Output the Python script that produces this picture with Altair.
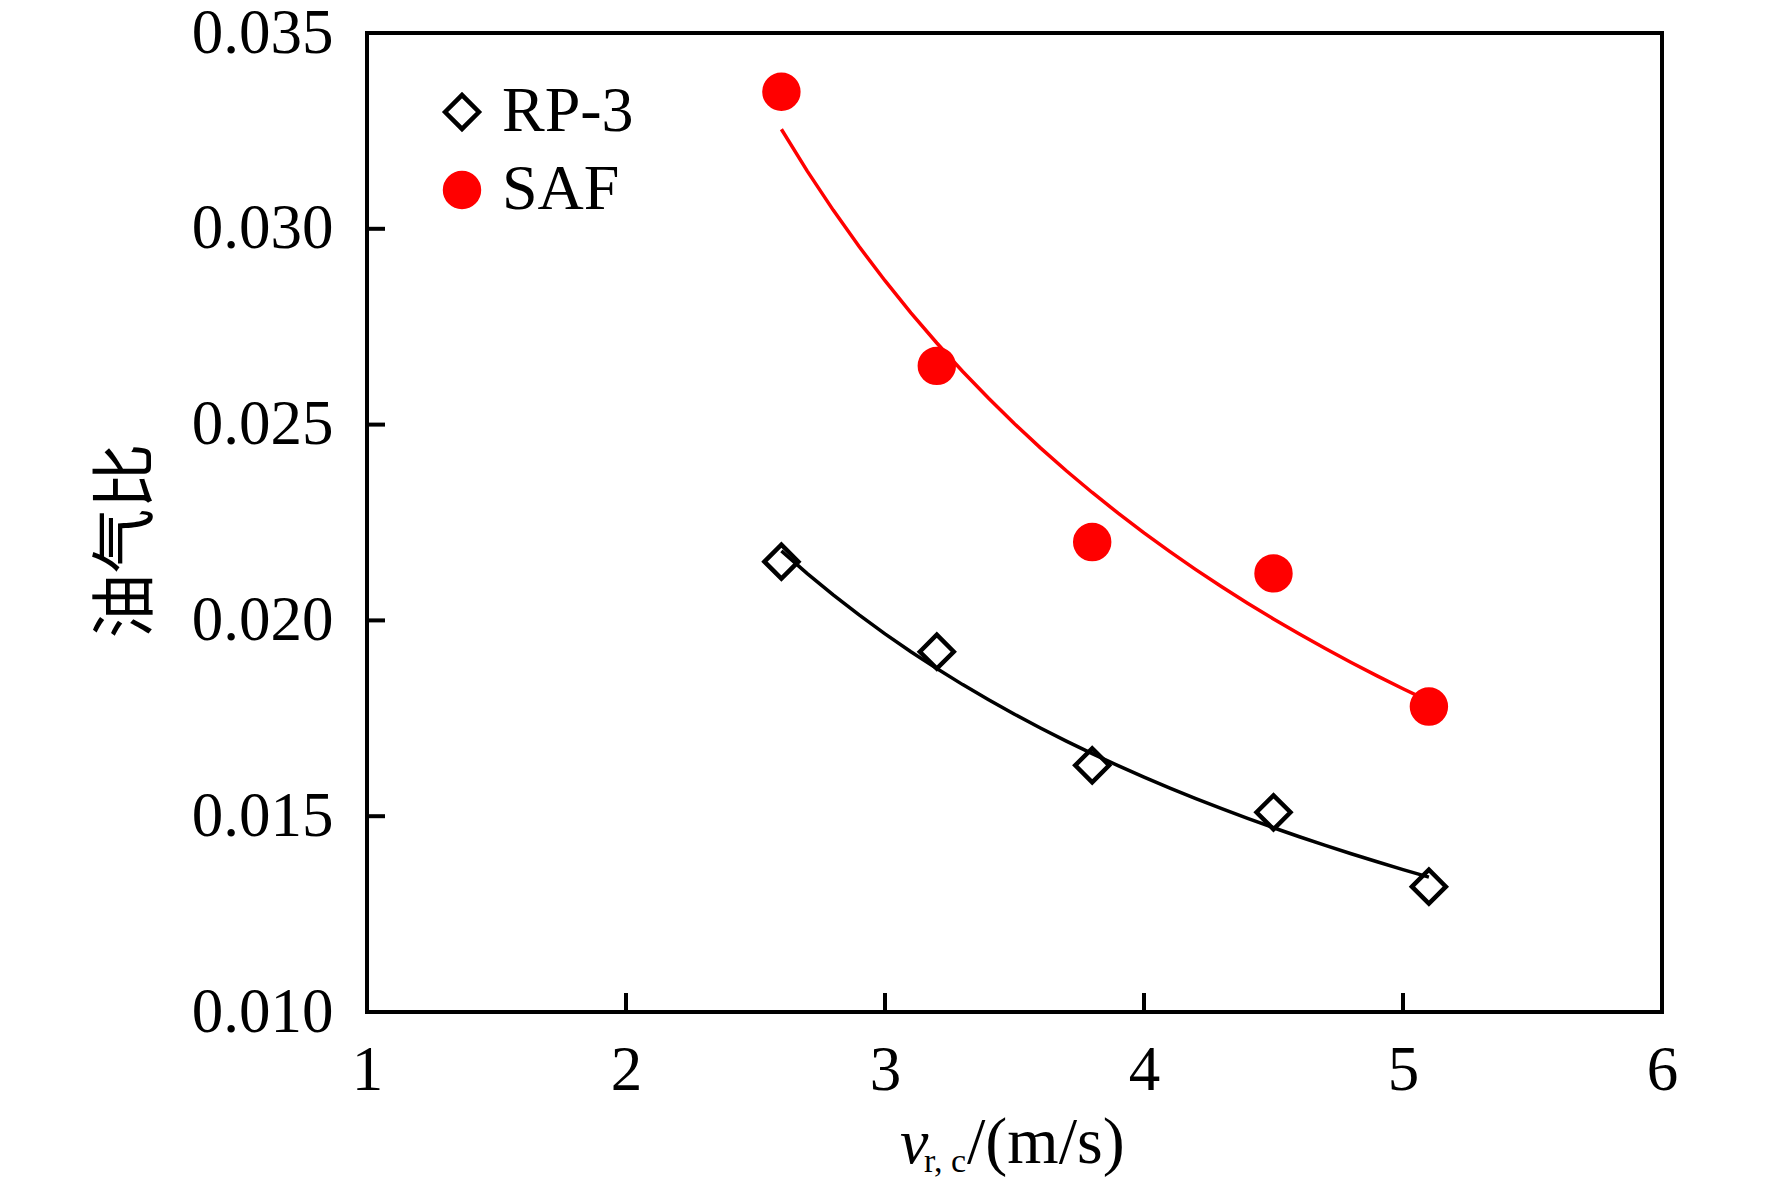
import altair as alt
import pandas as pd

# ---- data ----
v_rc = [2.6, 3.2, 3.8, 4.5, 5.1]
rp3 = [0.0215, 0.0192, 0.0163, 0.0151, 0.0132]
saf = [0.0335, 0.0265, 0.0220, 0.0212, 0.0178]
series = ["RP-3", "SAF"]
x_ticks = [1, 2, 3, 4, 5, 6]
y_ticks = [0.010, 0.015, 0.020, 0.025, 0.030, 0.035]

df = pd.DataFrame({
    "v": v_rc + v_rc,
    "r": rp3 + saf,
    "fuel": ["RP-3"] * len(v_rc) + ["SAF"] * len(v_rc),
})

W, H = 1295, 979
SERIF = "Liberation Serif"

xs = alt.Scale(domain=[1, 6], nice=False, zero=False)
ys = alt.Scale(domain=[0.010, 0.035], nice=False, zero=False)

x_axis = alt.Axis(values=x_ticks, format="d", title=None, labelPadding=27, labelFlush=False)
y_axis = alt.Axis(values=y_ticks, format=".3f", title=None, labelPadding=34, labelFlush=False)

leg = alt.Legend(
    orient="none", legendX=63, legendY=47, title=None,
    labelFont=SERIF, labelFontSize=64, labelColor="black",
    symbolSize=1150, symbolStrokeWidth=4.5, rowPadding=14, labelOffset=8,
)

points = alt.Chart(df).mark_point(size=1150, strokeWidth=4.5, opacity=1).encode(
    x=alt.X("v:Q", scale=xs, axis=x_axis),
    y=alt.Y("r:Q", scale=ys, axis=y_axis),
    shape=alt.Shape("fuel:N", scale=alt.Scale(domain=series, range=["diamond", "circle"]), legend=leg),
    fill=alt.Fill("fuel:N", scale=alt.Scale(domain=series, range=["transparent", "#ff0000"]), legend=leg),
    stroke=alt.Stroke("fuel:N", scale=alt.Scale(domain=series, range=["#000000", "#ff0000"]), legend=leg),
)


def fit_line(name, color):
    return (
        alt.Chart(df)
        .transform_filter(alt.datum.fuel == name)
        .transform_regression("v", "r", method="pow")
        .mark_line(color=color, strokeWidth=3.5)
        .encode(x=alt.X("v:Q", scale=xs), y=alt.Y("r:Q", scale=ys))
    )


line_rp3 = fit_line("RP-3", "#000000")
line_saf = fit_line("SAF", "#ff0000")

# inward tick marks
ytick = alt.Chart(pd.DataFrame({"r": y_ticks[1:-1]})).mark_rule(color="black", strokeWidth=4).encode(
    y=alt.Y("r:Q", scale=ys), x=alt.value(0), x2=alt.value(18)
)
xtick = alt.Chart(pd.DataFrame({"v": x_ticks[1:-1]})).mark_rule(color="black", strokeWidth=4).encode(
    x=alt.X("v:Q", scale=xs), y=alt.value(H), y2=alt.value(H - 19)
)


# axis titles
def label(txt, x, y, size, font=SERIF, style="normal", angle=0, align="left", baseline="alphabetic"):
    return alt.Chart(pd.DataFrame({"s": [txt]})).mark_text(
        font=font, fontSize=size, fontStyle=style, angle=angle, align=align,
        baseline=baseline, color="black",
    ).encode(text="s:N", x=alt.value(x), y=alt.value(y))


xt_v = label("v", 533, 1130, 64, style="italic")
xt_sub = label("r, c", 557, 1139, 34)
xt_rest = label("/(m/s)", 600, 1130, 66)
yt = label("油气比", -240, 508, 65, font="Noto Sans CJK SC", angle=270, align="center", baseline="middle")

chart = alt.layer(
    line_rp3, line_saf, points, ytick, xtick, xt_v, xt_sub, xt_rest, yt
).properties(
    width=W, height=H,
    padding={"left": 359, "top": 25, "right": 90, "bottom": 180},
    autosize=alt.AutoSizeParams(type="none"),
    background="white",
).configure_view(
    stroke="black", strokeWidth=4, fill="white"
).configure_axis(
    domain=False, ticks=False, tickSize=0, grid=False,
    labelFont=SERIF, labelFontSize=63, labelColor="black",
)

chart.save("out.html", embed_options={"renderer": "svg", "actions": False})
